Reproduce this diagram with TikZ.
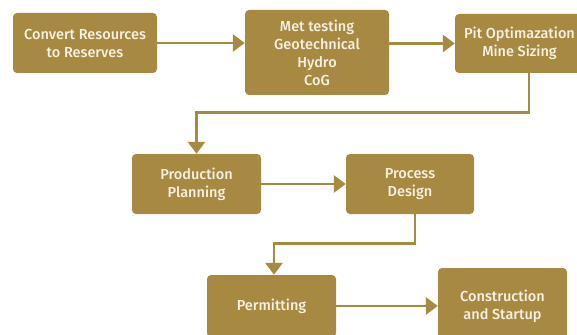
\documentclass[tikz,border=0pt]{standalone}
\usepackage{fontspec}
\setmainfont{Fira Sans}[UprightFont=* Medium]
\usetikzlibrary{arrows.meta}
\definecolor{gold}{HTML}{A78942}
\definecolor{cream}{HTML}{F6F1E2}
\begin{document}
\begin{tikzpicture}[x=1pt,y=-1pt,
  stage/.style={fill=gold, rounded corners=4pt, text=cream, align=center,
    inner sep=0pt, font=\fontsize{14.5}{18}\selectfont},
  flow/.style={draw=gold, line width=2.8pt,
    -{Triangle[length=12pt,width=17pt]}}]
\useasboundingbox (0,0) rectangle (577,334);

% stages of the project
\node[stage, minimum width=144pt, minimum height=60pt] (res) at (85,43)
  {Convert Resources\\to Reserves};
\node[stage, minimum width=144pt, minimum height=85pt] (met) at (317,52.5)
  {Met testing\\Geotechnical\\Hydro\\CoG};
\node[stage, minimum width=129pt, minimum height=59pt] (pit) at (519.5,43.5)
  {Pit Optimazation\\Mine Sizing};
\node[stage, minimum width=129pt, minimum height=60pt] (prod) at (196.5,184)
  {Production\\Planning};
\node[stage, minimum width=128pt, minimum height=60pt] (proc) at (410,184)
  {Process\\Design};
\node[stage, minimum width=129pt, minimum height=62pt] (perm) at (271.5,306)
  {Permitting};
\node[stage, minimum width=129pt, minimum height=76pt] (cons) at (502.5,306)
  {Construction\\and Startup};

% flow between stages
\draw[flow] (res.east) -- (res.east -| met.west);
\draw[flow] (met.east |- pit.west) -- (pit.west);
\draw[flow] ([xshift=9.5pt]pit.south) -- ++(0,39) -| (prod.north);
\draw[flow] (prod.east) -- (proc.west);
\draw[flow] ([xshift=5pt]proc.south) -- ++(0,29) -| ([xshift=2.5pt]perm.north);
\draw[flow] (perm.east) -- (perm.east -| cons.west);
\end{tikzpicture}
\end{document}
